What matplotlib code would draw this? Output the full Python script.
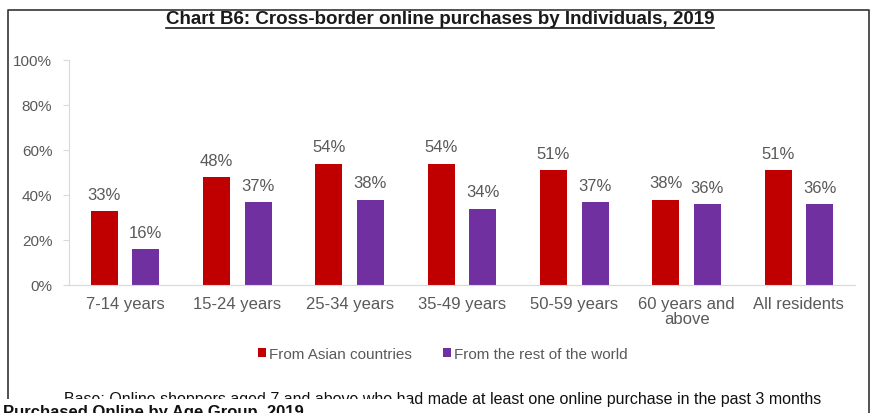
import matplotlib.pyplot as plt
import numpy as np
from matplotlib.lines import Line2D
from matplotlib.patches import Rectangle

plt.rcParams['font.family'] = ['Liberation Sans', 'DejaVu Sans']

categories = ['7-14 years', '15-24 years', '25-34 years', '35-49 years',
              '50-59 years', '60 years and\nabove', 'All residents']
asian = [33, 48, 54, 54, 51, 38, 51]
rest_of_world = [16, 37, 38, 34, 37, 36, 36]
series_names = ['From Asian countries', 'From the rest of the world']
y_ticks = [0, 20, 40, 60, 80, 100]

red = '#C00000'
purple = '#7030A0'
grey = '#595959'

fig = plt.figure(figsize=(8.72, 4.14), dpi=100)
W, H = 872, 414


def fx(px):
    return px / W


def fy(py):
    return 1 - py / H


ax = fig.add_axes([fx(69), fy(286), fx(855) - fx(69), fy(61) - fy(286)])

x = np.arange(len(categories))
off = 0.185
bw = 0.24
b1 = ax.bar(x - off, asian, bw, color=red, label=series_names[0])
b2 = ax.bar(x + off, rest_of_world, bw, color=purple, label=series_names[1])

for bars, vals in ((b1, asian), (b2, rest_of_world)):
    for b, v in zip(bars, vals):
        ax.text(b.get_x() + b.get_width() / 2, v + 4, f'{v}%', ha='center', va='bottom',
                fontsize=12, color=grey)

ax.set_xlim(-0.5, len(categories) - 0.5)
ax.set_ylim(0, 100)
ax.set_yticks(y_ticks)
ax.set_yticklabels([f'{t}%' for t in y_ticks])
ax.set_xticks(x)
ax.set_xticklabels(categories, fontsize=12, color=grey, linespacing=1.0)
ax.tick_params(axis='y', labelsize=11, labelcolor=grey, color='#D9D9D9', length=4, pad=8)
ax.tick_params(axis='x', length=0, pad=8)
for s in ['top', 'right']:
    ax.spines[s].set_visible(False)
ax.spines['left'].set_color('#D9D9D9')
ax.spines['bottom'].set_color('#D9D9D9')

fig.legend(handles=[b1, b2], loc='center', bbox_to_anchor=(fx(443), fy(355)), ncol=2,
           frameon=False, fontsize=11, labelcolor=grey, handlelength=0.55, handleheight=0.55,
           handletextpad=0.2, columnspacing=2.0)

# title, underlined to the width of the text
title = fig.text(fx(440), fy(20), 'Chart B6: Cross-border online purchases by Individuals, 2019',
                 ha='center', va='center', fontsize=13.5, fontweight='bold', color='#1a1a1a')
bb = title.get_window_extent(fig.canvas.get_renderer()).transformed(fig.transFigure.inverted())
fig.add_artist(Line2D([bb.x0, bb.x1], [fy(29), fy(29)], color='#1a1a1a', lw=1.2))

# frame around the chart
fig.add_artist(Line2D([fx(8), fx(8), fx(869), fx(869)], [fy(400), fy(11), fy(11), fy(414)],
                      color='#333333', lw=1.2))

# footnote, partly covered in the screenshot
fig.text(fx(443), fy(400), 'Base: Online shoppers aged 7 and above who had made at least one online purchase in the past 3 months',
         ha='center', va='center', fontsize=11.5, color='#111111')
fig.add_artist(Rectangle((0, 0), fx(410), fy(400), transform=fig.transFigure,
                         facecolor='white', edgecolor='none', zorder=5))
fig.text(fx(3), fy(405), 'Purchased Online by Age Group, 2019', ha='left', va='top',
         fontsize=12, fontweight='bold', color='#111111', zorder=6)

fig.savefig('out.png', dpi=100)
